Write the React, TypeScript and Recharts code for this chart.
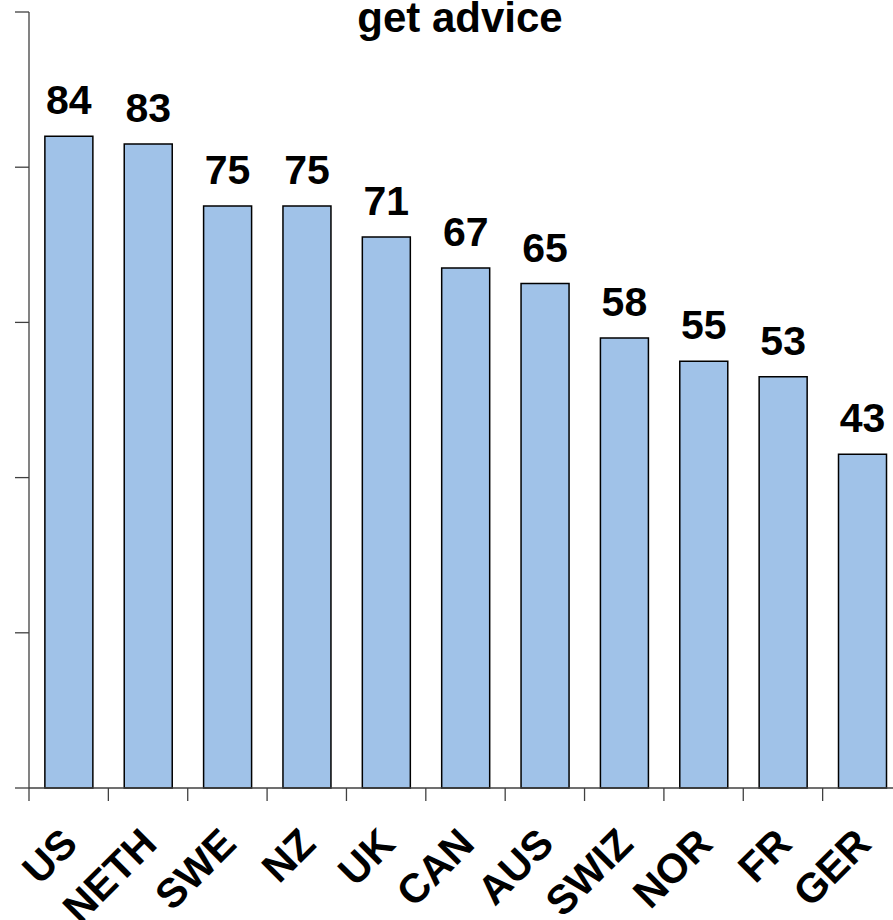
import React from 'react';
import { BarChart, Bar, XAxis, YAxis, LabelList } from 'recharts';

// Share of respondents able to get advice, by country
const countries = ['US', 'NETH', 'SWE', 'NZ', 'UK', 'CAN', 'AUS', 'SWIZ', 'NOR', 'FR', 'GER'];
const shares = [84, 83, 75, 75, 71, 67, 65, 58, 55, 53, 43];
const yTicks = [0, 20, 40, 60, 80, 100];

const data = countries.map((name, i) => ({ name, value: shares[i] }));

const FONT = '"Liberation Sans", Arial, Helvetica, sans-serif';
const AXIS = '#404040';

// Country label rotated 45°, plus a tick mark on the left edge of its band
const CountryTick = (props: any) => {
  const { x, y, payload } = props;
  const half = payload && payload.offset ? payload.offset : 0;
  const ax = x + 11;
  const ay = y + 58;
  return (
    <g>
      <line x1={x - half} x2={x - half} y1={y} y2={y + 13} stroke={AXIS} strokeWidth={1.3} />
      <text
        x={ax}
        y={ay}
        transform={`rotate(-45, ${ax}, ${ay})`}
        textAnchor="end"
        fontFamily={FONT}
        fontWeight="bold"
        fontSize={41}
        fill="#000"
      >
        {payload.value}
      </text>
    </g>
  );
};

export default function App() {
  return (
    <div
      style={{
        position: 'fixed',
        left: 0,
        top: 0,
        width: 893,
        height: 920,
        overflow: 'hidden',
        background: '#fff',
      }}
    >
      <BarChart
        width={910}
        height={920}
        data={data}
        margin={{ top: 12, right: 8, bottom: 0, left: 0 }}
        barCategoryGap="20%"
        style={{ fontFamily: FONT }}
      >
        <XAxis
          dataKey="name"
          interval={0}
          height={132}
          tickSize={0}
          tickMargin={0}
          axisLine={{ stroke: AXIS, strokeWidth: 1.3 }}
          tickLine={false}
          tick={<CountryTick />}
        />
        <YAxis
          width={29}
          domain={[0, 100]}
          ticks={yTicks}
          tickSize={14}
          tickFormatter={() => ''}
          axisLine={{ stroke: AXIS, strokeWidth: 1.3 }}
          tickLine={{ stroke: AXIS, strokeWidth: 1.3 }}
        />
        <Bar
          dataKey="value"
          fill="#A0C2E8"
          stroke="#000"
          strokeWidth={1.5}
          isAnimationActive={false}
        >
          <LabelList
            dataKey="value"
            position="top"
            offset={22}
            fontFamily={FONT}
            fontWeight="bold"
            fontSize={41}
            fill="#000"
          />
        </Bar>
      </BarChart>
      <svg
        width={893}
        height={50}
        style={{ position: 'absolute', left: 0, top: 0 }}
      >
        <text
          x={460}
          y={32}
          textAnchor="middle"
          fontFamily={FONT}
          fontWeight="bold"
          fontSize={42}
          fill="#000"
        >
          get advice
        </text>
      </svg>
    </div>
  );
}
